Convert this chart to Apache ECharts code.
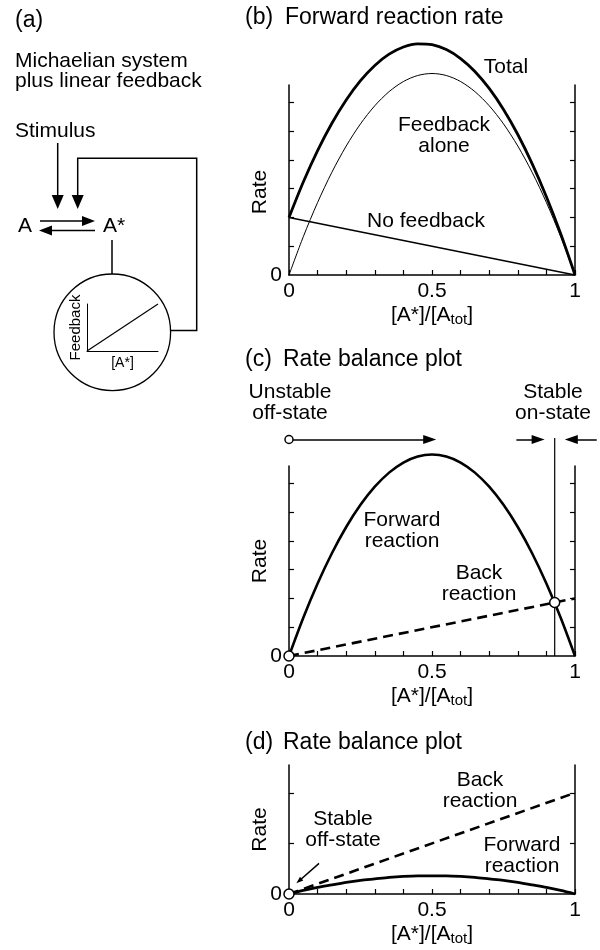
<!DOCTYPE html>
<html><head><meta charset="utf-8">
<script src="https://cdn.jsdelivr.net/npm/echarts@6/dist/echarts.min.js"></script>
<style>html,body{margin:0;padding:0;background:#fff}#c{width:600px;height:950px}</style>
</head><body><div id="c"></div>
<script>
// ---------- data ----------
const xs = [0,0.05,0.1,0.15,0.2,0.25,0.3,0.35,0.4,0.45,0.5,0.55,0.6,0.65,0.7,0.75,0.8,0.85,0.9,0.95,1];
// panel (b)
const totalRate     = [2.0,3.23,4.32,5.27,6.08,6.75,7.28,7.67,7.92,8.03,8.0,7.83,7.52,7.07,6.48,5.75,4.88,3.87,2.72,1.43,0];
const feedbackAlone = [0,1.33,2.52,3.57,4.48,5.25,5.88,6.37,6.72,6.93,7.0,6.93,6.72,6.37,5.88,5.25,4.48,3.57,2.52,1.33,0];
const noFeedbackX = [0,1];
const noFeedback  = [2,0];
// panel (c)
const forwardC = [0,1.33,2.52,3.57,4.48,5.25,5.88,6.37,6.72,6.93,7.0,6.93,6.72,6.37,5.88,5.25,4.48,3.57,2.52,1.33,0];
const backCX = [0,1];
const backC  = [0,2];
const stableOnState = [0.929,1.857];
const offStateC = [0,0];
// panel (d)
const forwardD = [0,0.07,0.13,0.18,0.23,0.27,0.30,0.33,0.35,0.36,0.36,0.36,0.35,0.33,0.30,0.27,0.23,0.18,0.13,0.07,0];
const backDX = [0,1];
const backD  = [0,2];
const offStateD = [0,0];
// tick values
const xTickLabels = [0,0.5,1];
const yTicksBC = [1,2,3,4,5,6];
const yTicksD = [1,2];
// feedback inset
const insetX = [0,1];
const insetY = [0,1];

// ---------- styling ----------
const F = '"Liberation Sans", Arial, Helvetica, sans-serif';
const K = '#000';
const pair = (a,b)=>a.map((v,i)=>[v,b[i]]);

function mkX(gi){
  return {type:'value', gridIndex:gi, min:0, max:1, interval:0.1,
    axisLine:{show:true, onZero:false, lineStyle:{color:K, width:1.5}},
    axisTick:{show:true, inside:true, length:5, lineStyle:{color:K, width:1.2}},
    axisLabel:{show:true, customValues:xTickLabels, color:K, fontSize:21, fontFamily:F, margin:6},
    splitLine:{show:false},
    name:'[A*]/[A{sub|tot}]', nameLocation:'middle', nameGap:28, nameMoveOverlap:false,
    nameTextStyle:{color:K, fontSize:21, fontFamily:F, lineHeight:24,
      rich:{sub:{fontSize:15, fontFamily:F, color:K, lineHeight:12, verticalAlign:'bottom'}}}
  };
}
function mkY(gi, max, ticks, pos, namePad){
  const left = pos === 'left';
  return {type:'value', gridIndex:gi, min:0, max:max, position:pos,
    axisLine:{show:true, onZero:false, lineStyle:{color:K, width:1.5}},
    axisTick:{show:true, inside:true, length:5, customValues:ticks, lineStyle:{color:K, width:1.2}},
    axisLabel:{show:left, customValues:[0], color:K, fontSize:21, fontFamily:F, margin:7},
    splitLine:{show:false},
    name: left ? 'Rate' : '', nameLocation:'middle', nameGap:17, nameMoveOverlap:false,
    nameTextStyle:{color:K, fontSize:21, fontFamily:F, lineHeight:24, padding:namePad||0}
  };
}
function curve(xi, yi, data, w, extra){
  return Object.assign({type:'line', xAxisIndex:xi, yAxisIndex:yi, data:data, smooth:0.3,
    showSymbol:false, symbol:'none', clip:false, silent:true, animation:false,
    lineStyle:{color:K, width:w}}, extra||{});
}
function dots(xi, yi, data, size){
  return {type:'scatter', xAxisIndex:xi, yAxisIndex:yi, data:data, symbol:'circle',
    symbolSize:size, clip:false, z:10, animation:false, silent:true,
    itemStyle:{color:'#fff', borderColor:K, borderWidth:1.5, opacity:1}};
}
function arrows(xi, yi, segs, head){
  return {type:'lines', coordinateSystem:'cartesian2d', xAxisIndex:xi, yAxisIndex:yi,
    data:segs.map(s=>({coords:s})), symbol:['none','triangle'], symbolSize:[0, head],
    clip:false, animation:false, silent:true, z:8,
    lineStyle:{color:K, width:1.5, opacity:1, curveness:0}, itemStyle:{color:K}};
}
function txt(x, y, text, o){
  return {type:'text', x:x, y:y, silent:true, style:Object.assign({text:text, fill:K,
    fontSize:21, fontFamily:F, align:'center', verticalAlign:'middle', lineHeight:21}, o||{})};
}
function ln(x1,y1,x2,y2,w){
  return {type:'line', silent:true, shape:{x1,y1,x2,y2}, style:{stroke:K, lineWidth:w||1.5}};
}
function tri(pts){
  return {type:'polygon', silent:true, shape:{points:pts}, style:{fill:K}};
}

const chart = echarts.init(document.getElementById('c'), null, {renderer:'canvas'});
const option = {
  backgroundColor:'#fff',
  animation:false,
  grid:[
    {left:289, top:85,  width:286, height:190, outerBoundsMode:'none', containLabel:false},
    {left:289, top:466, width:286, height:190, outerBoundsMode:'none', containLabel:false},
    {left:289, top:765, width:286, height:129, outerBoundsMode:'none', containLabel:false},
    {left:87,  top:304, width:71,  height:47,  outerBoundsMode:'none', containLabel:false}
  ],
  xAxis:[mkX(0), mkX(1), mkX(2),
    {type:'value', gridIndex:3, min:0, max:1,
     axisLine:{show:true, onZero:false, lineStyle:{color:K, width:1}}, axisTick:{show:false},
     axisLabel:{show:false}, splitLine:{show:false},
     name:'[A*]', nameLocation:'middle', nameGap:5, nameMoveOverlap:false,
     nameTextStyle:{color:K, fontSize:14, fontFamily:F}}],
  yAxis:[mkY(0,6.6,yTicksBC,'left',[0,24,0,0]), mkY(0,6.6,yTicksBC,'right'),
    mkY(1,6.6,yTicksBC,'left'), mkY(1,6.6,yTicksBC,'right'),
    mkY(2,2.55,yTicksD,'left'), mkY(2,2.55,yTicksD,'right'),
    {type:'value', gridIndex:3, min:0, max:1,
     axisLine:{show:true, onZero:false, lineStyle:{color:K, width:1}}, axisTick:{show:false},
     axisLabel:{show:false}, splitLine:{show:false},
     name:'Feedback', nameLocation:'middle', nameGap:4, nameMoveOverlap:false,
     nameTextStyle:{color:K, fontSize:15, fontFamily:F}}],
  series:[
    // (b)
    curve(0,0,pair(xs,totalRate),2.8),
    curve(0,0,pair(xs,feedbackAlone),1),
    curve(0,0,pair(noFeedbackX,noFeedback),1.5,{smooth:false}),
    // (c)
    curve(1,2,pair(xs,forwardC),2.6),
    curve(1,2,pair(backCX,backC),2.6,{smooth:false, lineStyle:{color:K, width:2.6, type:[10,6]}}),
    curve(1,2,[[stableOnState[0],0],[stableOnState[0],7.57]],1.2,{smooth:false}),
    dots(1,2,[offStateC, stableOnState],10),
    dots(1,2,[[0,7.52]],8),
    arrows(1,2,[[[0,7.52],[0.492,7.52]],[[0.795,7.52],[0.871,7.52]],[[1.076,7.52],[0.987,7.52]]],[9,13]),
    // (d)
    curve(2,4,pair(xs,forwardD),2.8),
    curve(2,4,pair(backDX,backD),2.6,{smooth:false, lineStyle:{color:K, width:2.6, type:[10,6]}}),
    dots(2,4,[offStateD],10),
    arrows(2,4,[[[0.105,0.605],[0.035,0.256]]],[5,7]),
    // inset
    curve(3,6,pair(insetX,insetY),1.2,{smooth:false})
  ],
  graphic:[
    // panel (a)
    txt(15,21,'(a)',{align:'left', fontSize:23}),
    txt(15,71.5,'Michaelian system\nplus linear feedback',{align:'left', lineHeight:20}),
    txt(15,131.7,'Stimulus',{align:'left'}),
    ln(57.7,143,57.7,196), tri([[51.7,195],[63.7,195],[57.7,209]]),
    {type:'polyline', silent:true, shape:{points:[[77.7,196],[77.7,158.3],[196.7,158.3],[196.7,330.5],[170,330.5]]},
     style:{stroke:K, lineWidth:1.5, fill:null}},
    tri([[71.7,195],[83.7,195],[77.7,209]]),
    txt(18,226,'A',{align:'left'}),
    txt(103,226,'A*',{align:'left'}),
    ln(40,221,84,221), tri([[82,216],[82,226],[95,221]]),
    ln(52,230.5,95,230.5), tri([[52,225.5],[52,235.5],[39,230.5]]),
    ln(112,240,112,274),
    {type:'circle', silent:true, shape:{cx:112.3, cy:332.3, r:58.3}, style:{stroke:K, fill:null, lineWidth:1.3}},
    // titles
    txt(245,18,'(b)',{align:'left', fontSize:23}),
    txt(285,18,'Forward reaction rate',{align:'left', fontSize:23}),
    txt(245,360,'(c)',{align:'left', fontSize:23}),
    txt(283,360,'Rate balance plot',{align:'left', fontSize:23}),
    txt(245,743,'(d)',{align:'left', fontSize:23}),
    txt(283,743,'Rate balance plot',{align:'left', fontSize:23}),
    // (b) annotations
    txt(506,67,'Total'),
    txt(444,135.5,'Feedback\nalone'),
    txt(426,221,'No feedback'),
    // (c) annotations
    txt(290,403,'Unstable\noff-state'),
    txt(553,403,'Stable\non-state'),
    txt(402,531,'Forward\nreaction'),
    txt(479,584,'Back\nreaction'),
    // (d) annotations
    txt(480,791,'Back\nreaction'),
    txt(343,830,'Stable\noff-state'),
    txt(522,856,'Forward\nreaction')
  ]
};
chart.setOption(option);
</script></body></html>
